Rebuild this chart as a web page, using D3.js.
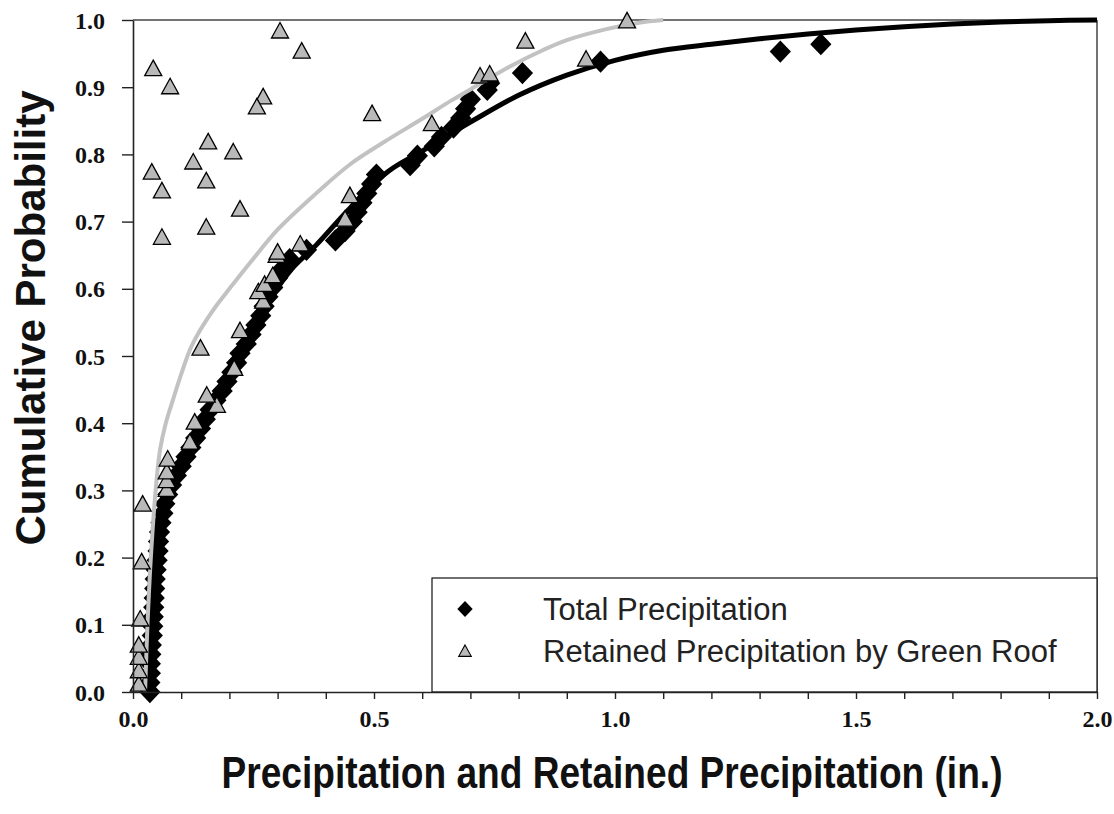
<!DOCTYPE html>
<html>
<head>
<meta charset="utf-8">
<script src="https://cdn.jsdelivr.net/npm/d3@7"></script>
<style>
html,body{margin:0;padding:0;background:#fff;}
svg{display:block;}
</style>
</head>
<body>
<svg id="chart" width="1114" height="814"></svg>
<script>
// ---------- DATA ----------
const xMajorTicks = [0.0, 0.5, 1.0, 1.5, 2.0];
const xMinorTicks = [0.0,0.1,0.2,0.3,0.4,0.5,0.6,0.7,0.8,0.9,1.0,1.1,1.2,1.3,1.4,1.5,1.6,1.7,1.8,1.9,2.0];
const yTicks = [0.0,0.1,0.2,0.3,0.4,0.5,0.6,0.7,0.8,0.9,1.0];

// Total precipitation (in.) and cumulative probability – diamonds
const totalPrecip = [0.035,0.035,0.036,0.036,0.037,0.038,0.040,0.041,0.042,0.043,0.044,0.045,0.046,0.048,0.050,0.052,0.053,0.055,0.058,0.062,0.066,0.072,0.080,0.090,0.100,0.110,0.120,0.130,0.140,0.150,0.160,0.172,0.185,0.195,0.205,0.215,0.222,0.235,0.245,0.255,0.265,0.272,0.280,0.290,0.300,0.310,0.325,0.360,0.420,0.440,0.455,0.465,0.475,0.485,0.495,0.505,0.575,0.590,0.625,0.640,0.665,0.680,0.690,0.700,0.735,0.740,0.808,0.970,1.343,1.427];
const totalProb   = [0.000,0.014,0.028,0.042,0.056,0.070,0.084,0.098,0.112,0.126,0.140,0.154,0.168,0.182,0.196,0.210,0.224,0.238,0.252,0.266,0.280,0.294,0.308,0.322,0.336,0.350,0.364,0.378,0.392,0.406,0.420,0.434,0.448,0.462,0.476,0.490,0.504,0.518,0.532,0.546,0.560,0.574,0.588,0.602,0.616,0.630,0.644,0.658,0.672,0.686,0.700,0.714,0.728,0.742,0.756,0.770,0.784,0.798,0.812,0.826,0.840,0.854,0.868,0.882,0.896,0.906,0.921,0.938,0.953,0.964];

// Retained precipitation by green roof (in.) and cumulative probability – triangles
const retainedPrecip = [0.012,0.012,0.012,0.012,0.015,0.018,0.020,0.070,0.070,0.070,0.072,0.118,0.128,0.174,0.153,0.210,0.140,0.222,0.270,0.260,0.273,0.290,0.298,0.300,0.347,0.440,0.450,0.620,0.720,0.740,0.814,0.940,1.025,0.496,
  0.305,0.350,0.042,0.077,0.270,0.257,0.156,0.208,0.125,0.039,0.152,0.060,0.222,0.152,0.060];
const retainedProb   = [0.010,0.030,0.050,0.068,0.107,0.192,0.278,0.300,0.313,0.326,0.345,0.370,0.400,0.425,0.440,0.480,0.510,0.536,0.580,0.594,0.605,0.618,0.648,0.653,0.665,0.702,0.737,0.844,0.915,0.918,0.967,0.940,0.997,0.859,
  0.982,0.952,0.926,0.899,0.884,0.869,0.817,0.802,0.787,0.772,0.759,0.744,0.717,0.690,0.675];

// Fitted distribution curves
const totalFitX = [0.030,0.035,0.045,0.060,0.075,0.100,0.120,0.150,0.190,0.220,0.260,0.290,0.330,0.380,0.450,0.530,0.600,0.700,0.800,0.900,1.000,1.100,1.200,1.300,1.400,1.500,1.600,1.700,1.800,1.900,2.000];
const totalFitP = [0.000,0.100,0.200,0.270,0.300,0.340,0.370,0.410,0.460,0.500,0.550,0.590,0.630,0.665,0.720,0.775,0.805,0.848,0.888,0.918,0.940,0.955,0.964,0.972,0.979,0.985,0.990,0.994,0.997,0.999,1.000];
const retainedFitX = [0.025,0.030,0.037,0.047,0.056,0.068,0.083,0.100,0.118,0.135,0.153,0.175,0.200,0.250,0.300,0.380,0.450,0.520,0.600,0.660,0.720,0.780,0.850,0.900,0.980,1.050,1.100];
const retainedFitP = [0.000,0.100,0.200,0.300,0.360,0.400,0.435,0.473,0.509,0.533,0.554,0.577,0.600,0.645,0.688,0.742,0.785,0.818,0.853,0.880,0.905,0.930,0.955,0.970,0.986,0.996,1.000];

const legendLabels = ["Total Precipitation", "Retained Precipitation by Green Roof"];
const xTitle = "Precipitation and Retained Precipitation (in.)";
const yTitle = "Cumulative Probability";

// ---------- CHART ----------
const svg = d3.select("#chart");
const m = {left:133, right:1097, top:20, bottom:692};
const x = d3.scaleLinear().domain([0,2]).range([m.left, m.right]);
const y = d3.scaleLinear().domain([0,1]).range([m.bottom, m.top]);

const diamondType = {draw(ctx, size){ const r = Math.sqrt(size)/2*1.414; ctx.moveTo(0,-r); ctx.lineTo(r*0.95,0); ctx.lineTo(0,r); ctx.lineTo(-r*0.95,0); ctx.closePath(); }};
const triType = {draw(ctx, size){ const s = Math.sqrt(size); ctx.moveTo(0,-0.62*s); ctx.lineTo(0.55*s,0.38*s); ctx.lineTo(-0.55*s,0.38*s); ctx.closePath(); }};

// frame (top & right)
svg.append("line").attr("x1", m.left).attr("x2", m.right).attr("y1", m.top).attr("y2", m.top).attr("stroke","#444").attr("stroke-width",1.5);
svg.append("line").attr("x1", m.right).attr("x2", m.right).attr("y1", m.top).attr("y2", m.bottom).attr("stroke","#444").attr("stroke-width",1.5);

// legend box
const lg = svg.append("g");
lg.append("rect").attr("x",432).attr("y",578).attr("width",m.right-432).attr("height",m.bottom-578)
  .attr("fill","#fff").attr("stroke","#111").attr("stroke-width",1.2);

// diamonds
const dSym = d3.symbol().type(diamondType).size(250);
svg.append("g").selectAll("path").data(totalPrecip.map((v,i)=>[v,totalProb[i]])).join("path")
  .attr("transform", d=>`translate(${x(d[0])},${y(d[1])})`).attr("d", dSym).attr("fill","#000");

// fitted lines
const line = d3.line().x(d=>x(d[0])).y(d=>y(d[1])).curve(d3.curveCatmullRom.alpha(0.5));
svg.append("path").datum(totalFitX.map((v,i)=>[v,totalFitP[i]])).attr("d", line)
  .attr("fill","none").attr("stroke","#000").attr("stroke-width",5);
svg.append("path").datum(retainedFitX.map((v,i)=>[v,retainedFitP[i]])).attr("d", line)
  .attr("fill","none").attr("stroke","#c2c2c2").attr("stroke-width",4);

// triangles
const tSym = d3.symbol().type(triType).size(240);
svg.append("g").selectAll("path").data(retainedPrecip.map((v,i)=>[v,retainedProb[i]])).join("path")
  .attr("transform", d=>`translate(${x(d[0])},${y(d[1])})`).attr("d", tSym)
  .attr("fill","#b9b9b9").attr("stroke","#000").attr("stroke-width",1.3);

// axes
const yAxis = svg.append("g").attr("transform",`translate(${m.left},0)`)
  .call(d3.axisLeft(y).tickValues(yTicks).tickFormat(d3.format(".1f")).tickSize(11).tickSizeOuter(0).tickPadding(17));
const xAxis = svg.append("g").attr("transform",`translate(0,${m.bottom})`)
  .call(d3.axisBottom(x).tickValues(xMinorTicks).tickFormat(d => xMajorTicks.some(t=>Math.abs(t-d)<1e-9) ? d3.format(".1f")(d) : "").tickSize(7).tickSizeOuter(0));
[yAxis, xAxis].forEach(a=>{
  a.selectAll(".domain").attr("stroke","#222").attr("stroke-width",1.6);
  a.selectAll(".tick line").attr("stroke","#222").attr("stroke-width",1.4);
  a.selectAll("text").attr("font-family","'Liberation Serif', serif").attr("font-weight","bold").attr("font-size",24).attr("fill","#111");
});
yAxis.selectAll("text").attr("dy","0.34em");
xAxis.selectAll("text").attr("y",35).attr("dy",0);

// legend content
lg.append("path").attr("transform","translate(465,609)").attr("d", d3.symbol().type(diamondType).size(130)).attr("fill","#000");
lg.append("path").attr("transform","translate(465,652)").attr("d", d3.symbol().type(triType).size(130)).attr("fill","#b9b9b9").attr("stroke","#000").attr("stroke-width",1.1);
lg.selectAll("text.lt").data(legendLabels).join("text").attr("class","lt")
  .attr("x",543).attr("y",(d,i)=>620+i*42).text(d=>d)
  .attr("font-family","'Liberation Sans', Arial, sans-serif").attr("font-size",31).attr("fill","#222");

// axis titles
svg.append("text").attr("transform","translate(45,318) rotate(-90)").attr("text-anchor","middle")
  .attr("font-family","'Liberation Sans', Arial, sans-serif").attr("font-weight","bold").attr("font-size",42)
  .attr("fill","#111").text(yTitle);
svg.append("text").attr("transform","translate(612,788) scale(0.843,1)").attr("text-anchor","middle")
  .attr("font-family","'Liberation Sans', Arial, sans-serif").attr("font-weight","bold").attr("font-size",44)
  .attr("fill","#111").text(xTitle);
</script>
</body>
</html>
